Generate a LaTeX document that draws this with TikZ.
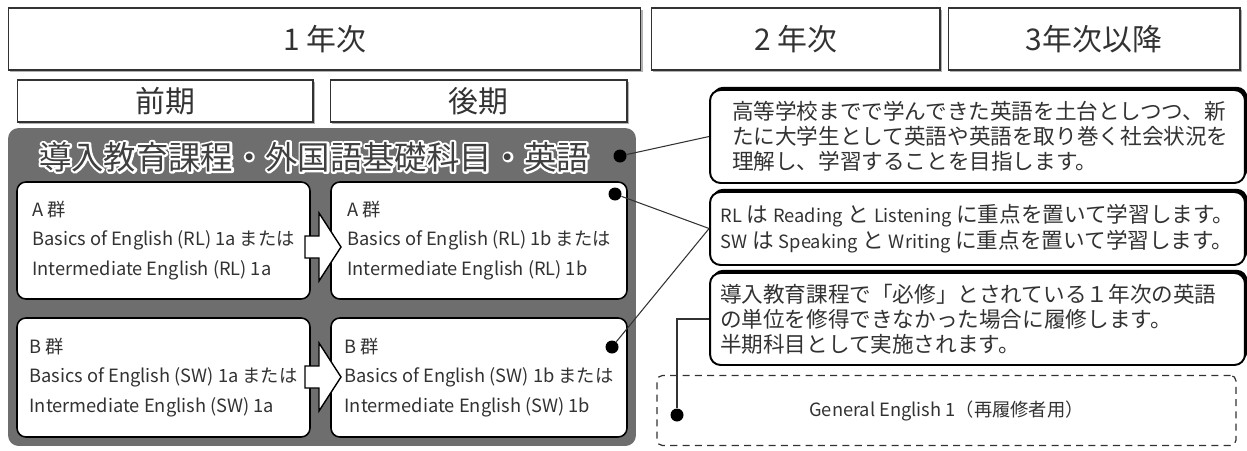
\documentclass[tikz,border=0pt]{standalone}
\usepackage{fontspec}
\setmainfont{Noto Sans CJK JP}
\usetikzlibrary{shadows}
\definecolor{panelgray}{RGB}{110,110,110}
\definecolor{inkgray}{RGB}{50,50,50}
\newcommand\engl[1]{{\fontsize{10.4}{14.2}\selectfont #1}}
\newcommand\haloed[1]{\rlap{\special{pdf:literal direct 1 Tr 2.4 w 1 j 1 1 1 RG}#1\special{pdf:literal direct 0 Tr}}#1}

\begin{document}
\begin{tikzpicture}[x=0.02cm, y=-0.02cm,
  yearbox/.style={draw=inkgray, line width=.6pt, fill=white, general shadow={fill=gray!60, shadow xshift=1pt, shadow yshift=-1pt}, minimum height=1.24cm, font=\fontsize{17}{19}\selectfont, text=inkgray},
  termbox/.style={yearbox, minimum height=0.84cm},
  course/.style={draw=black, line width=.9pt, fill=white, rounded corners=5pt, align=left, font=\fontsize{10.4}{17}\selectfont, text=inkgray},
  callout/.style={draw=black, line width=1.1pt, fill=white, rounded corners=6pt, general shadow={fill=black, shadow xshift=1.4pt, shadow yshift=1.8pt}, align=left, font=\fontsize{12.3}{14.2}\selectfont, text=inkgray},
  dot/.style={circle, fill=black, inner sep=0pt, minimum size=0.26cm},
  link/.style={draw=inkgray, line width=.6pt}]
\useasboundingbox (0,0) rectangle (1247,450);

% year headers
\node[yearbox, minimum width=12.66cm] (year1) at (324.5,39) {1 年次};
\node[yearbox, minimum width=5.78cm] (year2) at (795.5,39) {2 年次};
\node[yearbox, minimum width=5.84cm] (year3) at (1094,39) {3年次以降};
\node[termbox, minimum width=5.92cm] (zenki) at (165,101) {前期};
\node[termbox, minimum width=5.94cm] (kouki) at (478.5,101) {後期};

% gray panel with title
\node[fill=panelgray, rounded corners=6pt, minimum width=12.56cm, minimum height=6.36cm] (panel) at (322,287) {};
\node[font=\fontsize{18.4}{20}\selectfont, text=gray!50!black, inner sep=0pt] (title) at (314,157) {\haloed{導入教育課程・外国語基礎科目・英語}};

% course boxes
\node[course, minimum width=5.86cm, minimum height=2.34cm] (rl1) at (163.5,240.5) {A 群\\Basics of English (RL) 1a または\\Intermediate English (RL) 1a};
\node[course, minimum width=5.92cm, minimum height=2.34cm] (rl2) at (479,240.5) {A 群\\Basics of English (RL) 1b または\\Intermediate English (RL) 1b};
\node[course, minimum width=5.86cm, minimum height=2.38cm] (sw1) at (163.5,377.5) {B 群\\Basics of English (SW) 1a または\\Intermediate English (SW) 1a};
\node[course, minimum width=5.92cm, minimum height=2.38cm] (sw2) at (479,377.5) {B 群\\Basics of English (SW) 1b または\\Intermediate English (SW) 1b};

\draw[fill=white, line width=.8pt] (305,236) -- (319,236) -- (319,213) -- (341,247) -- (319,281) -- (319,258) -- (305,258) -- cycle;
\draw[fill=white, line width=.8pt] (305,366) -- (319,366) -- (319,343) -- (341,377) -- (319,411) -- (319,388) -- (305,388) -- cycle;

\node[dot] (dtitle) at (620,156) {};
\node[dot] (drl) at (615,194) {};
\node[dot] (dsw) at (612,347) {};
\node[dot] (dge) at (677,415) {};

% notes on the right
\node[callout, minimum height=1.86cm, inner xsep=0.44cm, text width=9.82cm] (aim) at (977.5,136.5) {高等学校までで学んできた英語を土台としつつ、新\\たに大学生として英語や英語を取り巻く社会状況を\\理解し、学習することを目指します。};
\node[callout, minimum width=10.7cm, minimum height=1.46cm, inner xsep=0.06cm, font=\fontsize{12.3}{14.4}\selectfont] (focus) at (977.5,228.5) {\engl{RL} は \engl{Reading} と \engl{Listening} に重点を置いて学習します。\\\engl{SW} は \engl{Speaking} と \engl{Writing} に重点を置いて学習します。};
\node[callout, minimum height=1.84cm, inner xsep=0.2cm, text width=10.3cm] (retake) at (977.5,319) {導入教育課程で「必修」とされている１年次の英語\\の単位を修得できなかった場合に履修します。\\半期科目として実施されます。};
\node[draw=inkgray, line width=.7pt, dash pattern=on 4pt off 3pt, rounded corners=3pt, minimum width=11.58cm, minimum height=1.4cm, font=\fontsize{10.4}{12}\selectfont, text=inkgray] (ge) at (946.5,410.5) {General English 1（再履修者用）};

\draw[link] (dtitle) -- (aim.west);
\draw[link] (drl) -- (focus.west);
\draw[link] (dsw) -- (focus.west);
\draw[link] (dge) |- (retake.west);
\end{tikzpicture}
\end{document}
